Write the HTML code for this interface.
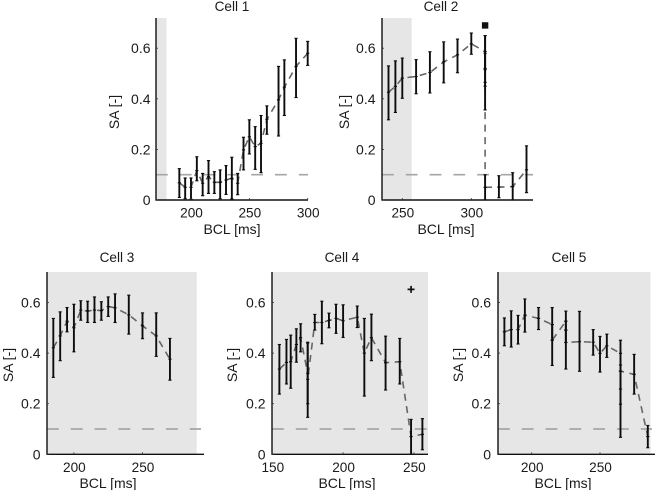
<!DOCTYPE html>
<html lang="en">
<head>
<meta charset="utf-8">
<title>SA vs BCL for five cells</title>
<style>
html,body{margin:0;padding:0;background:#fff;}
svg{display:block;}
text{font-family:"Liberation Sans",sans-serif;fill:#1a1a1a;}
</style>
</head>
<body>
<svg id="chart" xmlns="http://www.w3.org/2000/svg" width="656" height="490" viewBox="0 0 656 490"></svg>
<script>
// ---- data ----
const cellTitles = ["Cell 1", "Cell 2", "Cell 3", "Cell 4", "Cell 5"];
const yTicks = [0, 0.2, 0.4, 0.6];
const yTickLabels = ["0", "0.2", "0.4", "0.6"];
const threshold = 0.1;
const xLabel = "BCL [ms]";
const yLabel = "SA [-]";

const cell1XTicks = [200, 250, 300];
const cell1Bcl = [190,195,200,205,210,215,220,225,230,235,240,245,250,255,260,265,275,280,290,300];
const cell1Sa  = [.068,.05,.05,.116,.066,.092,.07,.07,.079,.086,.066,.198,.25,.211,.224,.319,.396,.446,.528,.58];
const cell1Hi  = [.124,.087,.087,.171,.105,.156,.112,.119,.136,.169,.105,.248,.317,.29,.334,.372,.528,.554,.639,.627];
const cell1Lo  = [.01,.005,.003,.076,.017,.026,.026,.005,.022,.004,.021,.119,.182,.121,.108,.26,.253,.334,.405,.532];
const cell1ShadeEnd = 179;

const cell2XTicks = [250, 300];
const cell2Bcl = [240,245,250,260,270,280,290,300,310,310,310,310,320,330,340];
const cell2Sa  = [.426,.449,.482,.488,.504,.546,.574,.617,.587,.515,.465,.05,.051,.053,.119];
const cell2Hi  = [.53,.55,.561,.555,.586,.625,.636,.66,.65,.58,.65,.1,.096,.108,.214];
const cell2Lo  = [.317,.346,.402,.42,.423,.463,.503,.576,.52,.45,.356,0,.009,0,.029];
const cell2ShadeEnd = 256.8;
const cell2SquareMarker = [310, 0.69];

const cell3XTicks = [200, 250];
const cell3Bcl = [185,190,195,200,205,210,215,220,225,230,240,250,260,270];
const cell3Sa  = [.421,.468,.526,.5,.57,.566,.57,.568,.584,.579,.551,.508,.468,.376];
const cell3Hi  = [.537,.563,.58,.593,.607,.605,.622,.603,.622,.634,.629,.559,.559,.458];
const cell3Lo  = [.304,.37,.484,.405,.53,.521,.521,.53,.545,.521,.475,.457,.387,.293];
const cell3ShadeEnd = 289.5;

const cell4XTicks = [150, 200, 250];
const cell4Bcl = [155,160,163,167,170,175,175,180,185,190,195,200,210,215,220,230,240,248,256];
const cell4Sa  = [.337,.363,.366,.434,.461,.32,.296,.521,.521,.529,.537,.528,.542,.4,.461,.362,.366,.07,.079];
const cell4Hi  = [.434,.454,.471,.496,.516,.443,.44,.553,.605,.558,.593,.591,.586,.537,.554,.467,.458,.138,.141];
const cell4Lo  = [.238,.278,.261,.364,.405,.2,.146,.491,.437,.5,.478,.462,.501,.23,.37,.254,.278,0,.018];
const cell4ShadeEnd = 260;
const cell4PlusMarker = [248, 0.652];

const cell5XTicks = [200, 250];
const cell5Bcl = [180,185,190,195,205,215,215,225,225,225,235,245,250,255,265,265,265,275,285];
const cell5Sa  = [.484,.493,.493,.55,.537,.513,.451,.526,.491,.442,.445,.443,.399,.429,.399,.329,.329,.316,.07];
const cell5Hi  = [.539,.567,.549,.614,.58,.58,.513,.566,.526,.491,.565,.493,.466,.475,.451,.353,.329,.395,.114];
const cell5Lo  = [.429,.424,.436,.483,.493,.451,.351,.491,.442,.337,.328,.392,.325,.383,.198,.258,.067,.238,.026];
const cell5ShadeEnd = 287;

// ---- layout ----
const panels = [
 {title:cellTitles[0],bcl:cell1Bcl,sa:cell1Sa,hi:cell1Hi,lo:cell1Lo,ticks:cell1XTicks,shadeEnd:cell1ShadeEnd,
  left:156,right:308,zero:200,top:18,d0:200,d1:300,r0:191,r1:307.7,titleX:232,xLabelX:232,yLabelX:114,yTickRight:150.5,threshEnd:308,row:0},
 {title:cellTitles[1],bcl:cell2Bcl,sa:cell2Sa,hi:cell2Hi,lo:cell2Lo,ticks:cell2XTicks,shadeEnd:cell2ShadeEnd,
  left:382,right:533,zero:200,top:18,d0:250,d1:300,r0:402.3,r1:471.3,titleX:441,xLabelX:446,yLabelX:344,yTickRight:375.5,threshEnd:533,row:0},
 {title:cellTitles[2],bcl:cell3Bcl,sa:cell3Sa,hi:cell3Hi,lo:cell3Lo,ticks:cell3XTicks,shadeEnd:cell3ShadeEnd,
  left:47,right:204,zero:454.3,top:272,d0:200,d1:250,r0:73.9,r1:142.5,titleX:117,xLabelX:108,yLabelX:8,yTickRight:40.5,threshEnd:201,row:1},
 {title:cellTitles[3],bcl:cell4Bcl,sa:cell4Sa,hi:cell4Hi,lo:cell4Lo,ticks:cell4XTicks,shadeEnd:cell4ShadeEnd,
  left:272,right:428,zero:454.3,top:272,d0:150,d1:250,r0:272.3,r1:413.9,titleX:342,xLabelX:347,yLabelX:232,yTickRight:265.5,threshEnd:427,row:1},
 {title:cellTitles[4],bcl:cell5Bcl,sa:cell5Sa,hi:cell5Hi,lo:cell5Lo,ticks:cell5XTicks,shadeEnd:cell5ShadeEnd,
  left:498,right:655,zero:454.3,top:272,d0:200,d1:250,r0:531.7,r1:600,titleX:569,xLabelX:563,yLabelX:458,yTickRight:491,threshEnd:652,row:1}
];
const UNIT = 253; // pixels per SA unit
const NS = "http://www.w3.org/2000/svg";
const svg = document.getElementById("chart");

function mk(parent, tag, attrs, txt){
  const n = document.createElementNS(NS, tag);
  for (const k in attrs) n.setAttribute(k, attrs[k]);
  if (txt !== undefined) n.textContent = txt;
  parent.appendChild(n);
  return n;
}

panels.forEach(function(p, idx){
  const num = idx + 1;
  const xs = function(v){ return p.r0 + (v - p.d0) * (p.r1 - p.r0) / (p.d1 - p.d0); };
  const ys = function(v){ return p.zero - v * UNIT; };
  const g = mk(svg, "g", {});
  
  

  // shaded region
  let el = mk(g, "rect", {x:p.left, y:p.top, width:Math.min(xs(p.shadeEnd), p.right) - p.left, height:p.zero - p.top, fill:"#e6e6e6"});
  
  

  // threshold
  el = mk(g, "line", {x1:p.left, x2:p.threshEnd, y1:ys(threshold), y2:ys(threshold), stroke:"#a6a6a6", "stroke-width":1.7, "stroke-dasharray":"11.8 12"});
  
  

  // mean dashed line
  const pts = p.bcl.map(function(b, i){ return xs(b).toFixed(1) + "," + ys(p.sa[i]).toFixed(1); }).join(" ");
  el = mk(g, "polyline", {points:pts, fill:"none", stroke:"#666", "stroke-width":1.6, "stroke-dasharray":"7 5.5"});
  
  

  // error bars
  p.bcl.forEach(function(b, i){
    const x = xs(b);
    const bar = mk(g, "g", {stroke:"#0d0d0d", fill:"none"});
    
    
    mk(bar, "line", {x1:x, x2:x, y1:ys(p.hi[i]), y2:ys(p.lo[i]), "stroke-width":1.9});
    mk(bar, "line", {x1:x-1.6, x2:x+1.6, y1:ys(p.hi[i]), y2:ys(p.hi[i]), "stroke-width":1.1});
    mk(bar, "line", {x1:x-1.6, x2:x+1.6, y1:ys(p.lo[i]), y2:ys(p.lo[i]), "stroke-width":1.1});
    mk(bar, "line", {x1:x-1.6, x2:x+1.6, y1:ys(p.sa[i]), y2:ys(p.sa[i]), "stroke-width":1.1});
  });

  // axes
  el = mk(g, "line", {x1:p.left, x2:p.left, y1:p.top, y2:p.zero + 0.6, stroke:"#111", "stroke-width":1.4});
  
  
  el = mk(g, "line", {x1:p.left, x2:p.right, y1:p.zero, y2:p.zero, stroke:"#111", "stroke-width":1.4});
  
  

  // y ticks
  yTicks.forEach(function(t, i){
    mk(g, "line", {x1:p.left, x2:p.left + 2, y1:ys(t), y2:ys(t), stroke:"#333", "stroke-width":0.8});
    el = mk(g, "text", {x:p.yTickRight, y:ys(t) + 5, "text-anchor":"end", "font-size":14}, yTickLabels[i]);
    
    
  });

  // x ticks
  p.ticks.forEach(function(t){
    mk(g, "line", {x1:xs(t), x2:xs(t), y1:p.zero, y2:p.zero - 2, stroke:"#333", "stroke-width":0.8});
    el = mk(g, "text", {x:xs(t) + 0.5, y:p.zero + 17.5, "text-anchor":"middle", "font-size":13.6}, String(t));
    
    
  });

  // titles and axis labels
  el = mk(g, "text", {x:p.titleX, y:p.row ? 262 : 11, "text-anchor":"middle", "font-size":13.6}, p.title);
  
  
  el = mk(g, "text", {x:p.xLabelX, y:p.zero + (p.row ? 33.5 : 34), "text-anchor":"middle", "font-size":14}, xLabel);
  
  
  const ly = p.row ? 365 : 112;
  el = mk(g, "text", {x:p.yLabelX, y:ly, "text-anchor":"middle", "font-size":14, transform:"rotate(-90 " + p.yLabelX + " " + ly + ") translate(0 5)"}, yLabel);
  
  

  // annotation markers
  if (num === 2) {
    const m = mk(g, "rect", {x:xs(cell2SquareMarker[0]) - 3.2, y:ys(cell2SquareMarker[1]) - 3.2, width:6.4, height:6.4, fill:"#111"});
    
    
  }
  if (num === 4) {
    const cx = xs(cell4PlusMarker[0]), cy = ys(cell4PlusMarker[1]);
    const m = mk(g, "path", {d:"M" + (cx - 3.5) + " " + cy + "H" + (cx + 3.5) + "M" + cx + " " + (cy - 3.5) + "V" + (cy + 3.5), stroke:"#111", "stroke-width":1.7, fill:"none"});
    
    
  }
});
</script>
</body>
</html>
